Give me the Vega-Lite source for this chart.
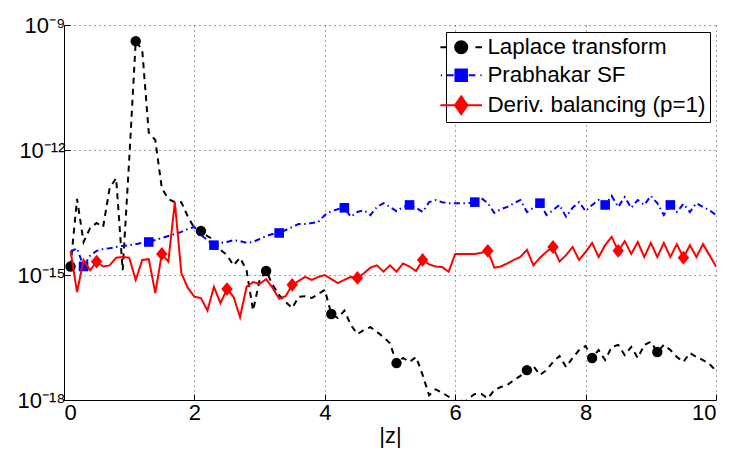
{
  "$schema": "https://vega.github.io/schema/vega-lite/v6.json",
  "autosize": {"type": "none"},
  "padding": {"left": 64, "top": 25, "right": 14, "bottom": 52},
  "width": 652,
  "height": 375,
  "background": "white",
  "config": {
    "view": {"stroke": null},
    "font": "Liberation Sans",
    "axis": {
      "labelFont": "Liberation Sans",
      "labelFontSize": 22,
      "labelColor": "black",
      "titleFont": "Liberation Sans",
      "titleFontSize": 22,
      "titleFontWeight": "normal",
      "titleColor": "black",
      "domainColor": "black",
      "domainWidth": 1,
      "tickColor": "black",
      "tickSize": -6,
      "tickWidth": 1,
      "grid": true,
      "gridColor": "#444444",
      "gridDash": [1, 4],
      "gridWidth": 1,
      "gridOpacity": 1
    },
    "legend": {
      "orient": "none",
      "legendX": 382,
      "legendY": 7,
      "labelFont": "Liberation Sans",
      "labelFontSize": 22.4,
      "labelColor": "black",
      "labelLimit": 400,
      "labelOffset": 15,
      "symbolOffset": 0,
      "symbolSize": 256,
      "symbolStrokeWidth": 2,
      "rowPadding": 5,
      "padding": 4,
      "strokeColor": "black",
      "fillColor": "white",
      "cornerRadius": 0
    }
  },
  "data": {
    "values": [
      {"x": 0.1, "L": 1.6e-15, "P": 3.6e-15, "D": 3.8e-15},
      {"x": 0.2, "L": 6.7e-14, "P": 4.4e-15, "D": 3.9e-16},
      {"x": 0.3, "L": 6.2e-15, "P": 1.6e-15, "D": 2.3e-15},
      {"x": 0.4, "L": 1.34e-14, "P": 2.9e-15, "D": 1.3e-15},
      {"x": 0.5, "L": 1.77e-14, "P": 3.8e-15, "D": 2.1e-15},
      {"x": 0.6, "L": 1.42e-14, "P": 4.2e-15, "D": 1.6e-15},
      {"x": 0.7, "L": 1.22e-13, "P": 4.4e-15, "D": 1.7e-15},
      {"x": 0.8, "L": 2.1e-13, "P": 4.7e-15, "D": 2.6e-15},
      {"x": 0.9, "L": 1.3e-15, "P": 5.0e-15, "D": 2.7e-15},
      {"x": 1.0, "L": 5.8e-13, "P": 5.2e-15, "D": 2.6e-15},
      {"x": 1.1, "L": 4.1e-10, "P": 5.5e-15, "D": 7.6e-16},
      {"x": 1.2, "L": 2.5e-10, "P": 5.9e-15, "D": 2.3e-15},
      {"x": 1.3, "L": 2.6e-12, "P": 6.2e-15, "D": 2.4e-15},
      {"x": 1.4, "L": 1.74e-12, "P": 6.9e-15, "D": 3.7e-16},
      {"x": 1.5, "L": 1.22e-13, "P": 7.7e-15, "D": 3.2e-15},
      {"x": 1.6, "L": 6.7e-14, "P": 8.6e-15, "D": 2.1e-15},
      {"x": 1.7, "L": 5.6e-14, "P": 9.6e-15, "D": 5.6e-14},
      {"x": 1.8, "L": 5.6e-14, "P": 1.08e-14, "D": 1.1e-15},
      {"x": 1.9, "L": 2.5e-14, "P": 1.27e-14, "D": 4.9e-16},
      {"x": 2.0, "L": 1.34e-14, "P": 1.42e-14, "D": 3.0e-16},
      {"x": 2.1, "L": 1.14e-14, "P": 9.1e-15, "D": 2.8e-16},
      {"x": 2.2, "L": 8.6e-15, "P": 6.9e-15, "D": 1.4e-16},
      {"x": 2.3, "L": 6.9e-15, "P": 5.2e-15, "D": 5.2e-16},
      {"x": 2.4, "L": 4.0e-15, "P": 5.9e-15, "D": 2.1e-16},
      {"x": 2.5, "L": 3.0e-15, "P": 6.2e-15, "D": 4.6e-16},
      {"x": 2.6, "L": 1.7e-15, "P": 6.9e-15, "D": 3.0e-16},
      {"x": 2.7, "L": 2.6e-15, "P": 6.5e-15, "D": 9.8e-17},
      {"x": 2.8, "L": 1.3e-15, "P": 5.9e-15, "D": 5.2e-16},
      {"x": 2.9, "L": 1.4e-16, "P": 6.2e-15, "D": 6.8e-16},
      {"x": 3.0, "L": 7.6e-16, "P": 7.3e-15, "D": 6.1e-16},
      {"x": 3.1, "L": 1.25e-15, "P": 8.6e-15, "D": 8.0e-16},
      {"x": 3.2, "L": 5.8e-16, "P": 9.6e-15, "D": 4.9e-16},
      {"x": 3.3, "L": 3.3e-16, "P": 1.02e-14, "D": 2.7e-16},
      {"x": 3.4, "L": 2.25e-16, "P": 1.2e-14, "D": 3.1e-16},
      {"x": 3.5, "L": 1.6e-16, "P": 1.42e-14, "D": 5.8e-16},
      {"x": 3.6, "L": 3.0e-16, "P": 1.67e-14, "D": 7.2e-16},
      {"x": 3.7, "L": 3.1e-16, "P": 1.67e-14, "D": 9.0e-16},
      {"x": 3.8, "L": 2.8e-16, "P": 1.77e-14, "D": 7.6e-16},
      {"x": 3.9, "L": 3.5e-16, "P": 1.87e-14, "D": 9.0e-16},
      {"x": 4.0, "L": 4.4e-16, "P": 2.75e-14, "D": 1.0e-15},
      {"x": 4.1, "L": 1.16e-16, "P": 3.4e-14, "D": 8.0e-16},
      {"x": 4.2, "L": 9.3e-17, "P": 3.8e-14, "D": 6.4e-16},
      {"x": 4.3, "L": 1.4e-16, "P": 4.1e-14, "D": 7.6e-16},
      {"x": 4.4, "L": 6.3e-17, "P": 2.5e-14, "D": 9.0e-16},
      {"x": 4.5, "L": 3.8e-17, "P": 3.25e-14, "D": 8.5e-16},
      {"x": 4.6, "L": 4.8e-17, "P": 3.6e-14, "D": 1.1e-15},
      {"x": 4.7, "L": 5.6e-17, "P": 2.75e-14, "D": 1.5e-15},
      {"x": 4.8, "L": 4.3e-17, "P": 4.3e-14, "D": 1.7e-15},
      {"x": 4.9, "L": 3.25e-17, "P": 5.3e-14, "D": 1.2e-15},
      {"x": 5.0, "L": 2.3e-17, "P": 4.3e-14, "D": 1.7e-15},
      {"x": 5.1, "L": 7.7e-18, "P": 3.4e-14, "D": 1.2e-15},
      {"x": 5.2, "L": 1.02e-17, "P": 4.3e-14, "D": 1.9e-15},
      {"x": 5.3, "L": 8.2e-18, "P": 4.8e-14, "D": 1.6e-15},
      {"x": 5.4, "L": 1.08e-17, "P": 4.1e-14, "D": 1.25e-15},
      {"x": 5.5, "L": 4.0e-18, "P": 3.25e-14, "D": 2.3e-15},
      {"x": 5.6, "L": 1.3e-18, "P": 5.6e-14, "D": 1.8e-15},
      {"x": 5.7, "L": 1.8e-18, "P": 6.3e-14, "D": 1.6e-15},
      {"x": 5.8, "L": 1.5e-18, "P": 5.6e-14, "D": 1.55e-15},
      {"x": 5.9, "L": 1.2e-18, "P": 5.3e-14, "D": 1.2e-15},
      {"x": 6.0, "L": 9.0e-19, "P": 5.3e-14, "D": 3.2e-15},
      {"x": 6.1, "L": 7.6e-19, "P": 5.3e-14, "D": 3.2e-15},
      {"x": 6.2, "L": 1.06e-18, "P": 5.3e-14, "D": 3.2e-15},
      {"x": 6.3, "L": 1.4e-18, "P": 5.6e-14, "D": 3.2e-15},
      {"x": 6.4, "L": 1.4e-18, "P": 7.0e-14, "D": 3.4e-15},
      {"x": 6.5, "L": 1.1e-18, "P": 5.3e-14, "D": 3.8e-15},
      {"x": 6.6, "L": 1.74e-18, "P": 3.1e-14, "D": 1.5e-15},
      {"x": 6.7, "L": 2.05e-18, "P": 3.8e-14, "D": 1.6e-15},
      {"x": 6.8, "L": 2.3e-18, "P": 4.3e-14, "D": 1.9e-15},
      {"x": 6.9, "L": 3.0e-18, "P": 5.3e-14, "D": 2.3e-15},
      {"x": 7.0, "L": 3.8e-18, "P": 6.3e-14, "D": 2.7e-15},
      {"x": 7.1, "L": 5.2e-18, "P": 3.25e-14, "D": 4.0e-15},
      {"x": 7.2, "L": 6.5e-18, "P": 4.1e-14, "D": 1.7e-15},
      {"x": 7.3, "L": 4.0e-18, "P": 5.3e-14, "D": 2.6e-15},
      {"x": 7.4, "L": 5.2e-18, "P": 2.75e-14, "D": 3.6e-15},
      {"x": 7.5, "L": 8.2e-18, "P": 3.6e-14, "D": 4.7e-15},
      {"x": 7.6, "L": 1.14e-17, "P": 4.8e-14, "D": 2.1e-15},
      {"x": 7.7, "L": 6.2e-18, "P": 2.5e-14, "D": 3.0e-15},
      {"x": 7.8, "L": 1.02e-17, "P": 4.1e-14, "D": 4.7e-15},
      {"x": 7.9, "L": 1.58e-17, "P": 5.6e-14, "D": 2.3e-15},
      {"x": 8.0, "L": 1.98e-17, "P": 3.4e-14, "D": 3.6e-15},
      {"x": 8.1, "L": 1.02e-17, "P": 4.8e-14, "D": 5.9e-15},
      {"x": 8.2, "L": 1.58e-17, "P": 6.3e-14, "D": 2.7e-15},
      {"x": 8.3, "L": 9.1e-18, "P": 4.8e-14, "D": 5.2e-15},
      {"x": 8.4, "L": 1.87e-17, "P": 7.9e-14, "D": 8.2e-15},
      {"x": 8.5, "L": 2.1e-17, "P": 4.3e-14, "D": 3.8e-15},
      {"x": 8.6, "L": 1.2e-17, "P": 7.4e-14, "D": 6.5e-15},
      {"x": 8.7, "L": 1.87e-17, "P": 4.1e-14, "D": 3.2e-15},
      {"x": 8.8, "L": 1.02e-17, "P": 6.3e-14, "D": 6.2e-15},
      {"x": 8.9, "L": 2.1e-17, "P": 4.8e-14, "D": 2.7e-15},
      {"x": 9.0, "L": 2.5e-17, "P": 7.9e-14, "D": 5.9e-15},
      {"x": 9.1, "L": 1.42e-17, "P": 5.3e-14, "D": 2.7e-15},
      {"x": 9.2, "L": 2.1e-17, "P": 2.75e-14, "D": 5.9e-15},
      {"x": 9.3, "L": 1.58e-17, "P": 4.8e-14, "D": 2.7e-15},
      {"x": 9.4, "L": 1.08e-17, "P": 3.25e-14, "D": 5.5e-15},
      {"x": 9.5, "L": 8.2e-18, "P": 5.1e-14, "D": 2.6e-15},
      {"x": 9.6, "L": 1.34e-17, "P": 3.25e-14, "D": 5.2e-15},
      {"x": 9.7, "L": 1.08e-17, "P": 5.3e-14, "D": 2.7e-15},
      {"x": 9.8, "L": 9.1e-18, "P": 4.3e-14, "D": 5.5e-15},
      {"x": 9.9, "L": 7.3e-18, "P": 3.6e-14, "D": 3.0e-15},
      {"x": 10.0, "L": 5.0e-18, "P": 2.75e-14, "D": 1.6e-15}
    ]
  },
  "encoding": {
    "x": {
      "field": "x", "type": "quantitative",
      "scale": {"domain": [0, 10], "nice": false},
      "axis": {"values": [0, 2, 4, 6, 8, 10], "title": "|z|", "labelPadding": 8, "titlePadding": 2}
    }
  },
  "layer": [
    {
      "mark": {"type": "line", "color": "black", "strokeWidth": 2, "strokeDash": [6, 5], "clip": true},
      "encoding": {
        "y": {
          "field": "L", "type": "quantitative",
          "scale": {"type": "log", "domain": [1e-18, 1e-9], "nice": false},
          "axis": {
            "values": [1e-18, 1e-15, 1e-12, 1e-9],
            "title": null,
            "labelPadding": 5,
            "labelExpr": "'10' + (datum.value < 1e-17 ? '⁻¹⁸' : datum.value < 1e-14 ? '⁻¹⁵' : datum.value < 1e-11 ? '⁻¹²' : '⁻⁹')"
          }
        }
      }
    },
    {
      "transform": [{"filter": "round(datum.x * 10) % 10 == 1"}],
      "mark": {"type": "point", "shape": "circle", "filled": true, "color": "black", "size": 108, "opacity": 1, "clip": true},
      "encoding": {"y": {"field": "L", "type": "quantitative"}}
    },
    {
      "mark": {"type": "line", "color": "#0000ff", "strokeWidth": 2, "strokeDash": [6, 3.5, 1.5, 3.5], "clip": true},
      "encoding": {"y": {"field": "P", "type": "quantitative"}}
    },
    {
      "transform": [{"filter": "round(datum.x * 10) % 10 == 3"}],
      "mark": {"type": "point", "shape": "square", "filled": true, "color": "#0000ff", "size": 92, "opacity": 1, "clip": true},
      "encoding": {"y": {"field": "P", "type": "quantitative"}}
    },
    {
      "mark": {"type": "line", "color": "#ff0000", "strokeWidth": 2, "clip": true},
      "encoding": {"y": {"field": "D", "type": "quantitative"}}
    },
    {
      "transform": [{"filter": "round(datum.x * 10) % 10 == 5"}],
      "mark": {"type": "point", "shape": "M0,-1.15L0.95,0L0,1.15L-0.95,0Z", "filled": true, "color": "#ff0000", "size": 144, "opacity": 1, "clip": true},
      "encoding": {"y": {"field": "D", "type": "quantitative"}}
    },
    {
      "data": {"values": [{"s": "Laplace transform"}, {"s": "Prabhakar SF"}, {"s": "Deriv. balancing (p=1)"}]},
      "mark": {"type": "point", "filled": true, "opacity": 0},
      "encoding": {
        "x": {"datum": 5, "type": "quantitative"},
        "y": {"datum": 1e-12, "type": "quantitative"},
        "color": {
          "field": "s", "type": "nominal",
          "scale": {"domain": ["Laplace transform", "Prabhakar SF", "Deriv. balancing (p=1)"], "range": ["#000000", "#0000ff", "#ff0000"]},
          "legend": {
            "title": null,
            "encode": {"symbols": {"update": {
              "fill": {"scale": "color", "field": "value"},
              "stroke": {"scale": "color", "field": "value"},
              "strokeWidth": {"value": 2},
              "opacity": {"value": 1}
            }}}
          }
        },
        "shape": {
          "field": "s", "type": "nominal",
          "scale": {
            "domain": ["Laplace transform", "Prabhakar SF", "Deriv. balancing (p=1)"],
            "range": [
              "M-2.6,0H-1.78M1.78,0H2.6M0.75,0A0.75,0.75,0,1,1,-0.75,0A0.75,0.75,0,1,1,0.75,0Z",
              "M-2.55,0H-2.4M-1.78,0H-0.94M0.94,0H1.78M2.4,0H2.55M-0.72,-0.72H0.72V0.72H-0.72Z",
              "M-2.6,0H2.6M0,-1.1L0.78,0L0,1.1L-0.78,0Z"
            ]
          },
          "legend": {
            "title": null,
            "encode": {"symbols": {"update": {
              "fill": {"scale": "color", "field": "value"},
              "stroke": {"scale": "color", "field": "value"},
              "strokeWidth": {"value": 2},
              "opacity": {"value": 1}
            }}}
          }
        }
      }
    }
  ]
}
